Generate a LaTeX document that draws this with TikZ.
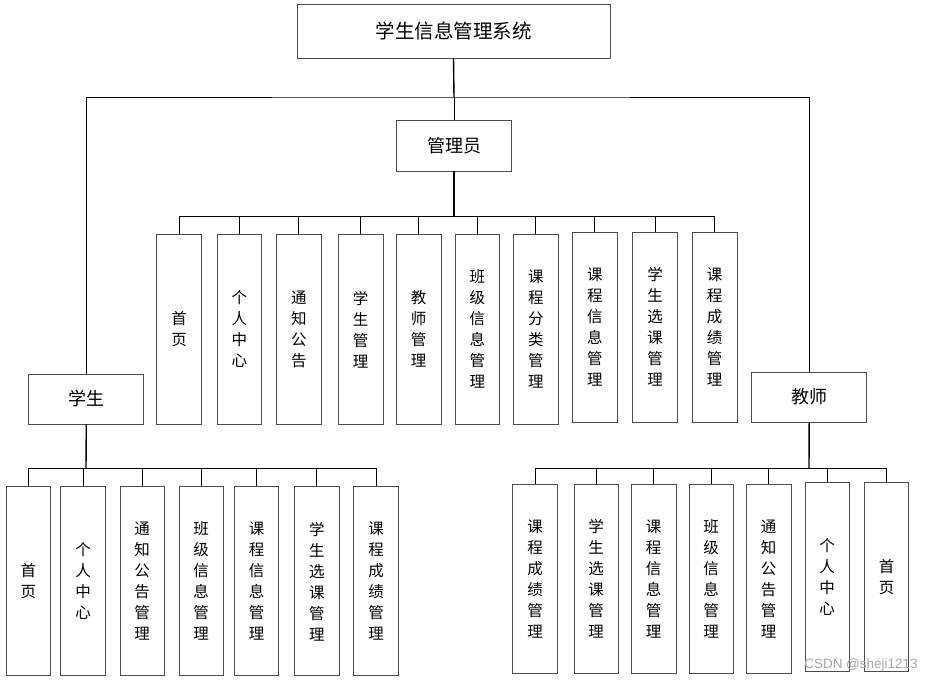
\documentclass[tikz,border=0pt]{standalone}
\usepackage{fontspec}
\newfontfamily\cjk{Noto Sans CJK SC}
\setsansfont{Liberation Sans}

\tikzset{
  sysbox/.style={draw=black!70, line width=0.8pt, minimum width=313pt, minimum height=54pt,
    inner sep=0pt, font=\cjk\fontsize{19.5}{24}\selectfont},
  rolebox/.style={draw=black!70, line width=0.8pt, minimum width=115pt, minimum height=51pt,
    inner sep=0pt, font=\cjk\fontsize{18}{22}\selectfont},
  leafbox/.style={draw=black!70, line width=0.8pt, minimum width=44.5pt, minimum height=190pt,
    inner sep=0pt, align=center, font=\cjk\fontsize{15.5}{21}\selectfont},
  link/.style={draw=black, line width=0.8pt},
  trunk/.style={draw=black, line width=1.4pt},
}

\begin{document}
\begin{tikzpicture}[x=1pt, y=-1pt]
  \useasboundingbox (0,0) rectangle (938,682);

  % top levels
  \node[sysbox] (sys) at (453.5,31) {学生信息管理系统};
  \node[rolebox] (admin) at (454,145.5) {管理员};
  \node[rolebox, minimum height=50pt] (stu) at (86.3,399) {学生};
  \node[rolebox, minimum height=50pt] (tea) at (809.2,397) {教师};

  \coordinate (split) at (454,97);
  \coordinate (abar) at (454,216);
  \coordinate (sbar) at (86,468);
  \coordinate (tbar) at (809,468);

  \draw[trunk] (sys.south) -- (split);
  \draw[link] (split) -- (admin.north);
  \draw[link] (stu.north) |- (split) -| (tea.north);
  \draw[trunk] (admin.south) -- (abar);
  \draw[trunk] (stu.south) -- (sbar);
  \draw[trunk] (tea.south) -- (tbar);

  % admin leaves
  \foreach \name/\x/\y/\txt in {
      a1/179/329.3/{首\\页},
      a2/239.3/329.3/{个\\人\\中\\心},
      a3/298.8/329.3/{通\\知\\公\\告},
      a4/360.7/329.3/{学\\生\\管\\理},
      a5/418.7/329.3/{教\\师\\管\\理},
      a6/477.3/329.3/{班\\级\\信\\息\\管\\理},
      a7/535.8/329.3/{课\\程\\分\\类\\管\\理},
      a8/594.8/327/{课\\程\\信\\息\\管\\理},
      a9/655/327/{学\\生\\选\\课\\管\\理},
      a10/714.7/327/{课\\程\\成\\绩\\管\\理}}
  {
    \node[leafbox] (\name) at (\x,\y) {\txt};
    \draw[link] (\name.north) |- (abar);
  }

  % student leaves
  \foreach \name/\x/\txt in {
      s1/28.3/{首\\页},
      s2/83/{个\\人\\中\\心},
      s3/142.2/{通\\知\\公\\告\\管\\理},
      s4/201.2/{班\\级\\信\\息\\管\\理},
      s5/256.5/{课\\程\\信\\息\\管\\理},
      s6/316.8/{学\\生\\选\\课\\管\\理},
      s7/376/{课\\程\\成\\绩\\管\\理}}
  {
    \node[leafbox, minimum height=189pt] (\name) at (\x,581.3) {\txt};
    \draw[link] (\name.north) |- (sbar);
  }

  % teacher leaves
  \foreach \name/\x/\y/\txt in {
      t1/535/578.7/{课\\程\\成\\绩\\管\\理},
      t2/596.2/578.7/{学\\生\\选\\课\\管\\理},
      t3/653.7/578.7/{课\\程\\信\\息\\管\\理},
      t4/711.2/578.7/{班\\级\\信\\息\\管\\理},
      t5/768.7/578.7/{通\\知\\公\\告\\管\\理},
      t6/827.2/576.7/{个\\人\\中\\心},
      t7/886.5/576.7/{首\\页}}
  {
    \node[leafbox, minimum height=189.5pt] (\name) at (\x,\y) {\txt};
    \draw[link] (\name.north) |- (tbar);
  }

  \node[text=black!35, font=\sffamily\fontsize{13.5}{16}\selectfont] (mark) at (861,665) {CSDN @sheji1213};
\end{tikzpicture}
\end{document}
